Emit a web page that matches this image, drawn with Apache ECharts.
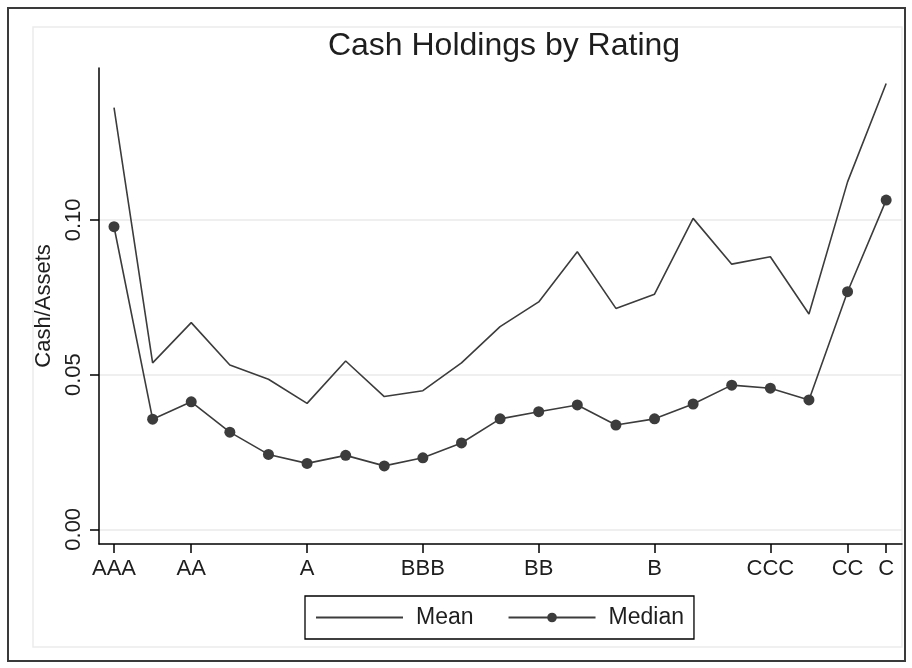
<!DOCTYPE html>
<html>
<head>
<meta charset="utf-8">
<script src="https://cdn.jsdelivr.net/npm/echarts@6/dist/echarts.min.js"></script>
<style>
html,body{margin:0;padding:0;background:#fff;}
#chart{width:912px;height:668px;}
</style>
</head>
<body>
<div id="chart"></div>
<script>
// ---- data ----
const categories = ['AAA','AA+','AA','AA-','A+','A','A-','BBB+','BBB','BBB-','BB+','BB','BB-','B+','B','B-','CCC+','CCC','CCC-','CC','C'];
const meanValues = [0.1363,0.0538,0.0668,0.0531,0.0485,0.0407,0.0544,0.0429,0.0448,0.0538,0.0655,0.0735,0.0897,0.0714,0.0760,0.1005,0.0857,0.0881,0.0696,0.1123,0.1441];
const medianValues = [0.0978,0.0356,0.0412,0.0314,0.0242,0.0213,0.0239,0.0205,0.0231,0.0279,0.0357,0.0380,0.0402,0.0337,0.0357,0.0405,0.0466,0.0456,0.0418,0.0768,0.1064];
const xTickLabels = ['AAA','AA','A','BBB','BB','B','CCC','CC','C'];
const yTickValues = [0, 0.05, 0.10];
const yTickLabels = ['0.00','0.05','0.10'];

const xTickPositions = xTickLabels.map(l => categories.indexOf(l));
const meanData = meanValues.map((v, i) => [i, v]);
const medianData = medianValues.map((v, i) => [i, v]);

const FONT = '"Liberation Sans", Arial, Helvetica, sans-serif';
const INK = '#1e1e1e';
const LINE = '#3c3c3c';

const chart = echarts.init(document.getElementById('chart'), null, {renderer: 'canvas'});
chart.setOption({
  animation: false,
  backgroundColor: '#ffffff',
  textStyle: {fontFamily: FONT},
  graphic: [
    {type: 'rect', z: -10, silent: true,
     shape: {x: 8, y: 8, width: 897, height: 653},
     style: {fill: '#ffffff', stroke: '#3a3a3a', lineWidth: 2}},
    {type: 'rect', z: -9, silent: true,
     shape: {x: 33, y: 27, width: 869, height: 620},
     style: {fill: '#ffffff', stroke: '#ebebeb', lineWidth: 1.5}}
  ],
  title: {
    text: 'Cash Holdings by Rating',
    left: 499, top: 25, textAlign: 'center',
    textStyle: {fontFamily: FONT, fontSize: 32, fontWeight: 'normal', color: INK}
  },
  legend: {
    left: 305, top: 596,
    padding: [10, 10, 10, 10],
    borderColor: '#000', borderWidth: 1.3,
    itemWidth: 87, itemHeight: 12, itemGap: 34,
    selectedMode: false,
    textStyle: {fontFamily: FONT, fontSize: 23, color: INK, padding: [0,0,0,8]},
    data: [
      {name: 'Mean', itemStyle: {color: 'rgba(0,0,0,0)', borderWidth: 0}},
      {name: 'Median'}
    ]
  },
  grid: {left: 99, right: 10, top: 68, bottom: 124, containLabel: false},
  xAxis: {
    type: 'value',
    min: -0.389, max: 20.41,
    axisLine: {show: true, onZero: false, lineStyle: {color: '#000', width: 1.5}},
    axisTick: {show: true, length: 9, inside: false, customValues: xTickPositions, lineStyle: {color: '#000', width: 1.5}},
    axisLabel: {show: true, margin: 14, customValues: xTickPositions, fontFamily: FONT, fontSize: 22, color: INK,
      formatter: v => categories[Math.round(v)]},
    splitLine: {show: false}
  },
  yAxis: {
    type: 'value',
    min: -0.00475, max: 0.1491,
    name: 'Cash/Assets', nameLocation: 'middle', nameRotate: 90, nameGap: 38,
    nameTextStyle: {fontFamily: FONT, fontSize: 22, color: INK},
    axisLine: {show: true, onZero: false, lineStyle: {color: '#000', width: 1.5}},
    axisTick: {show: true, length: 9, inside: false, customValues: yTickValues, lineStyle: {color: '#000', width: 1.5}},
    axisLabel: {show: true, rotate: 90, margin: 14, customValues: yTickValues, fontFamily: FONT, fontSize: 22, color: INK,
      formatter: v => yTickLabels[yTickValues.findIndex(t => Math.abs(t - v) < 1e-9)]},
    splitLine: {show: true, lineStyle: {color: '#eaeaea', width: 1.5}}
  },
  series: [
    {name: 'Mean', type: 'line', data: meanData, symbol: 'none', showSymbol: false,
     lineStyle: {color: LINE, width: 1.6}, itemStyle: {color: LINE}},
    {name: 'Median', type: 'line', data: medianData, symbol: 'circle', symbolSize: 11,
     lineStyle: {color: LINE, width: 1.6}, itemStyle: {color: LINE}}
  ]
});
</script>
</body>
</html>
